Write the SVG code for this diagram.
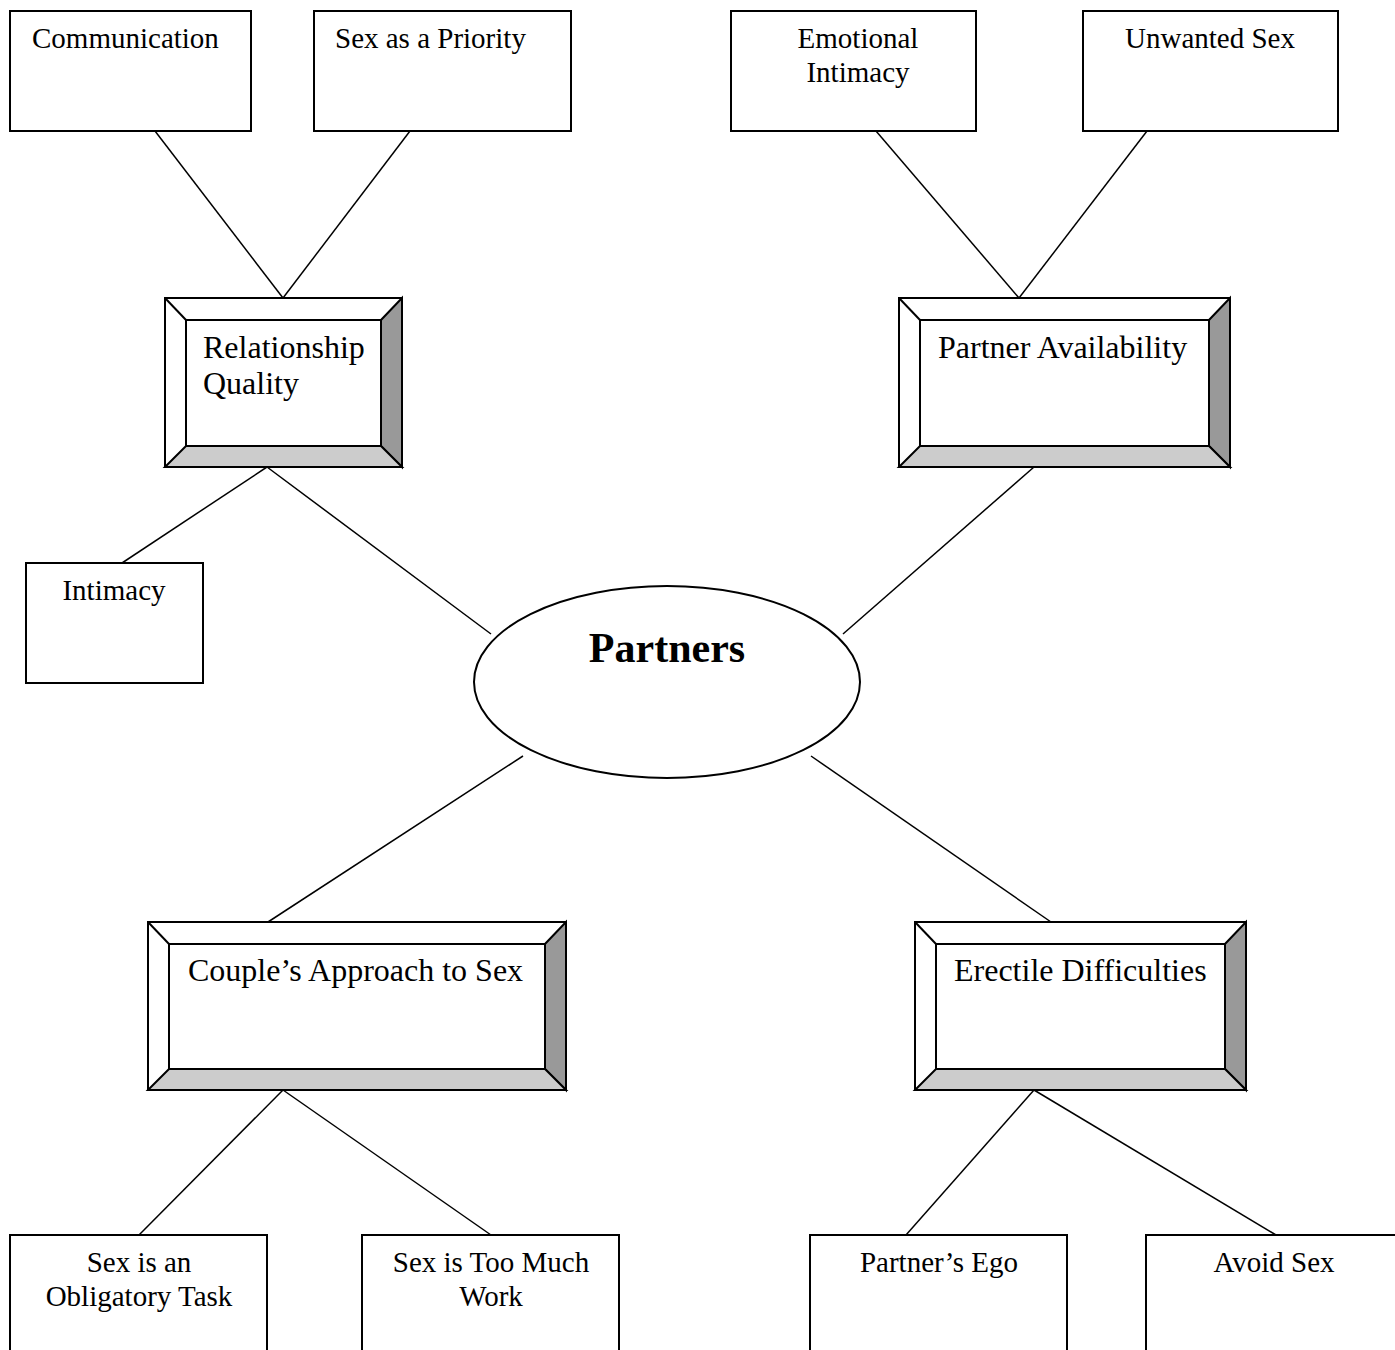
<svg xmlns="http://www.w3.org/2000/svg" width="1395" height="1350" viewBox="0 0 1395 1350">
<style>
.box{fill:#fff;stroke:#000;stroke-width:2}
.bv{stroke:#000;stroke-width:2;stroke-linejoin:miter}
.t{font-family:"Liberation Serif","Times New Roman",serif;font-size:29px;fill:#000}
.tb{font-family:"Liberation Serif","Times New Roman",serif;font-size:32px;fill:#000}
.m{text-anchor:middle}
.c{stroke:#000;stroke-width:1.5;fill:none}
</style>
<rect width="1395" height="1350" fill="#fff"/>
<g id="connectors">
<line class="c" x1="155" y1="131" x2="283" y2="298"/>
<line class="c" x1="410" y1="131" x2="283" y2="298"/>
<line class="c" x1="876" y1="131" x2="1019" y2="298"/>
<line class="c" x1="1147" y1="131" x2="1019" y2="298"/>
<line class="c" x1="267" y1="467" x2="122" y2="563"/>
<line class="c" x1="267" y1="467" x2="491" y2="634"/>
<line class="c" x1="1034" y1="467" x2="843" y2="634"/>
<line class="c" x1="523" y1="756" x2="268" y2="922"/>
<line class="c" x1="811" y1="756" x2="1051" y2="922"/>
<line class="c" x1="283" y1="1090" x2="139" y2="1235"/>
<line class="c" x1="283" y1="1090" x2="491" y2="1235"/>
<line class="c" x1="1034" y1="1090" x2="906" y2="1235"/>
<line class="c" x1="1034" y1="1090" x2="1276" y2="1235"/>
</g>
<g id="communication"><rect class="box" x="10" y="11" width="241" height="120"/><text class="t" x="32" y="48">Communication</text></g>
<g id="sex-priority"><rect class="box" x="314" y="11" width="257" height="120"/><text class="t" x="335" y="48">Sex as a Priority</text></g>
<g id="emotional-intimacy"><rect class="box" x="731" y="11" width="245" height="120"/><text class="t m" x="858" y="48">Emotional</text><text class="t m" x="858" y="82">Intimacy</text></g>
<g id="unwanted-sex"><rect class="box" x="1083" y="11" width="255" height="120"/><text class="t m" x="1210" y="48">Unwanted Sex</text></g>
<g id="relationship-quality">
<rect class="bv" x="165" y="298" width="237" height="169" fill="#fff"/>
<polygon class="bv" points="402,298 381,320 381,446 402,467" fill="#999"/>
<polygon class="bv" points="165,467 186,446 381,446 402,467" fill="#ccc"/>
<line class="bv" x1="165" y1="298" x2="186" y2="320"/>
<rect class="bv" x="186" y="320" width="195" height="126" fill="#fff"/>
<text class="tb" x="203" y="358">Relationship</text><text class="tb" x="203" y="394">Quality</text>
</g>
<g id="partner-availability">
<rect class="bv" x="899" y="298" width="331" height="169" fill="#fff"/>
<polygon class="bv" points="1230,298 1209,320 1209,446 1230,467" fill="#999"/>
<polygon class="bv" points="899,467 920,446 1209,446 1230,467" fill="#ccc"/>
<line class="bv" x1="899" y1="298" x2="920" y2="320"/>
<rect class="bv" x="920" y="320" width="289" height="126" fill="#fff"/>
<text class="tb" x="938" y="358">Partner Availability</text>
</g>
<g id="intimacy"><rect class="box" x="26" y="563" width="177" height="120"/><text class="t m" x="114" y="600">Intimacy</text></g>
<g id="partners"><ellipse class="box" cx="667" cy="682" rx="193" ry="96"/><text x="667" y="662" text-anchor="middle" font-family="'Liberation Serif','Times New Roman',serif" font-size="42" font-weight="bold">Partners</text></g>
<g id="couples-approach">
<rect class="bv" x="148" y="922" width="418" height="168" fill="#fff"/>
<polygon class="bv" points="566,922 545,944 545,1069 566,1090" fill="#999"/>
<polygon class="bv" points="148,1090 169,1069 545,1069 566,1090" fill="#ccc"/>
<line class="bv" x1="148" y1="922" x2="169" y2="944"/>
<rect class="bv" x="169" y="944" width="376" height="125" fill="#fff"/>
<text class="tb" x="188" y="981">Couple’s Approach to Sex</text>
</g>
<g id="erectile-difficulties">
<rect class="bv" x="915" y="922" width="331" height="168" fill="#fff"/>
<polygon class="bv" points="1246,922 1225,944 1225,1069 1246,1090" fill="#999"/>
<polygon class="bv" points="915,1090 936,1069 1225,1069 1246,1090" fill="#ccc"/>
<line class="bv" x1="915" y1="922" x2="936" y2="944"/>
<rect class="bv" x="936" y="944" width="289" height="125" fill="#fff"/>
<text class="tb" x="954" y="981">Erectile Difficulties</text>
</g>
<g id="obligatory-task"><rect class="box" x="10" y="1235" width="257" height="130"/><text class="t m" x="139" y="1272">Sex is an</text><text class="t m" x="139" y="1306">Obligatory Task</text></g>
<g id="too-much-work"><rect class="box" x="362" y="1235" width="257" height="130"/><text class="t m" x="491" y="1272">Sex is Too Much</text><text class="t m" x="491" y="1306">Work</text></g>
<g id="partners-ego"><rect class="box" x="810" y="1235" width="257" height="130"/><text class="t m" x="939" y="1272">Partner’s Ego</text></g>
<g id="avoid-sex"><rect class="box" x="1146" y="1235" width="260" height="130"/><text class="t m" x="1274" y="1272">Avoid Sex</text></g>
</svg>
